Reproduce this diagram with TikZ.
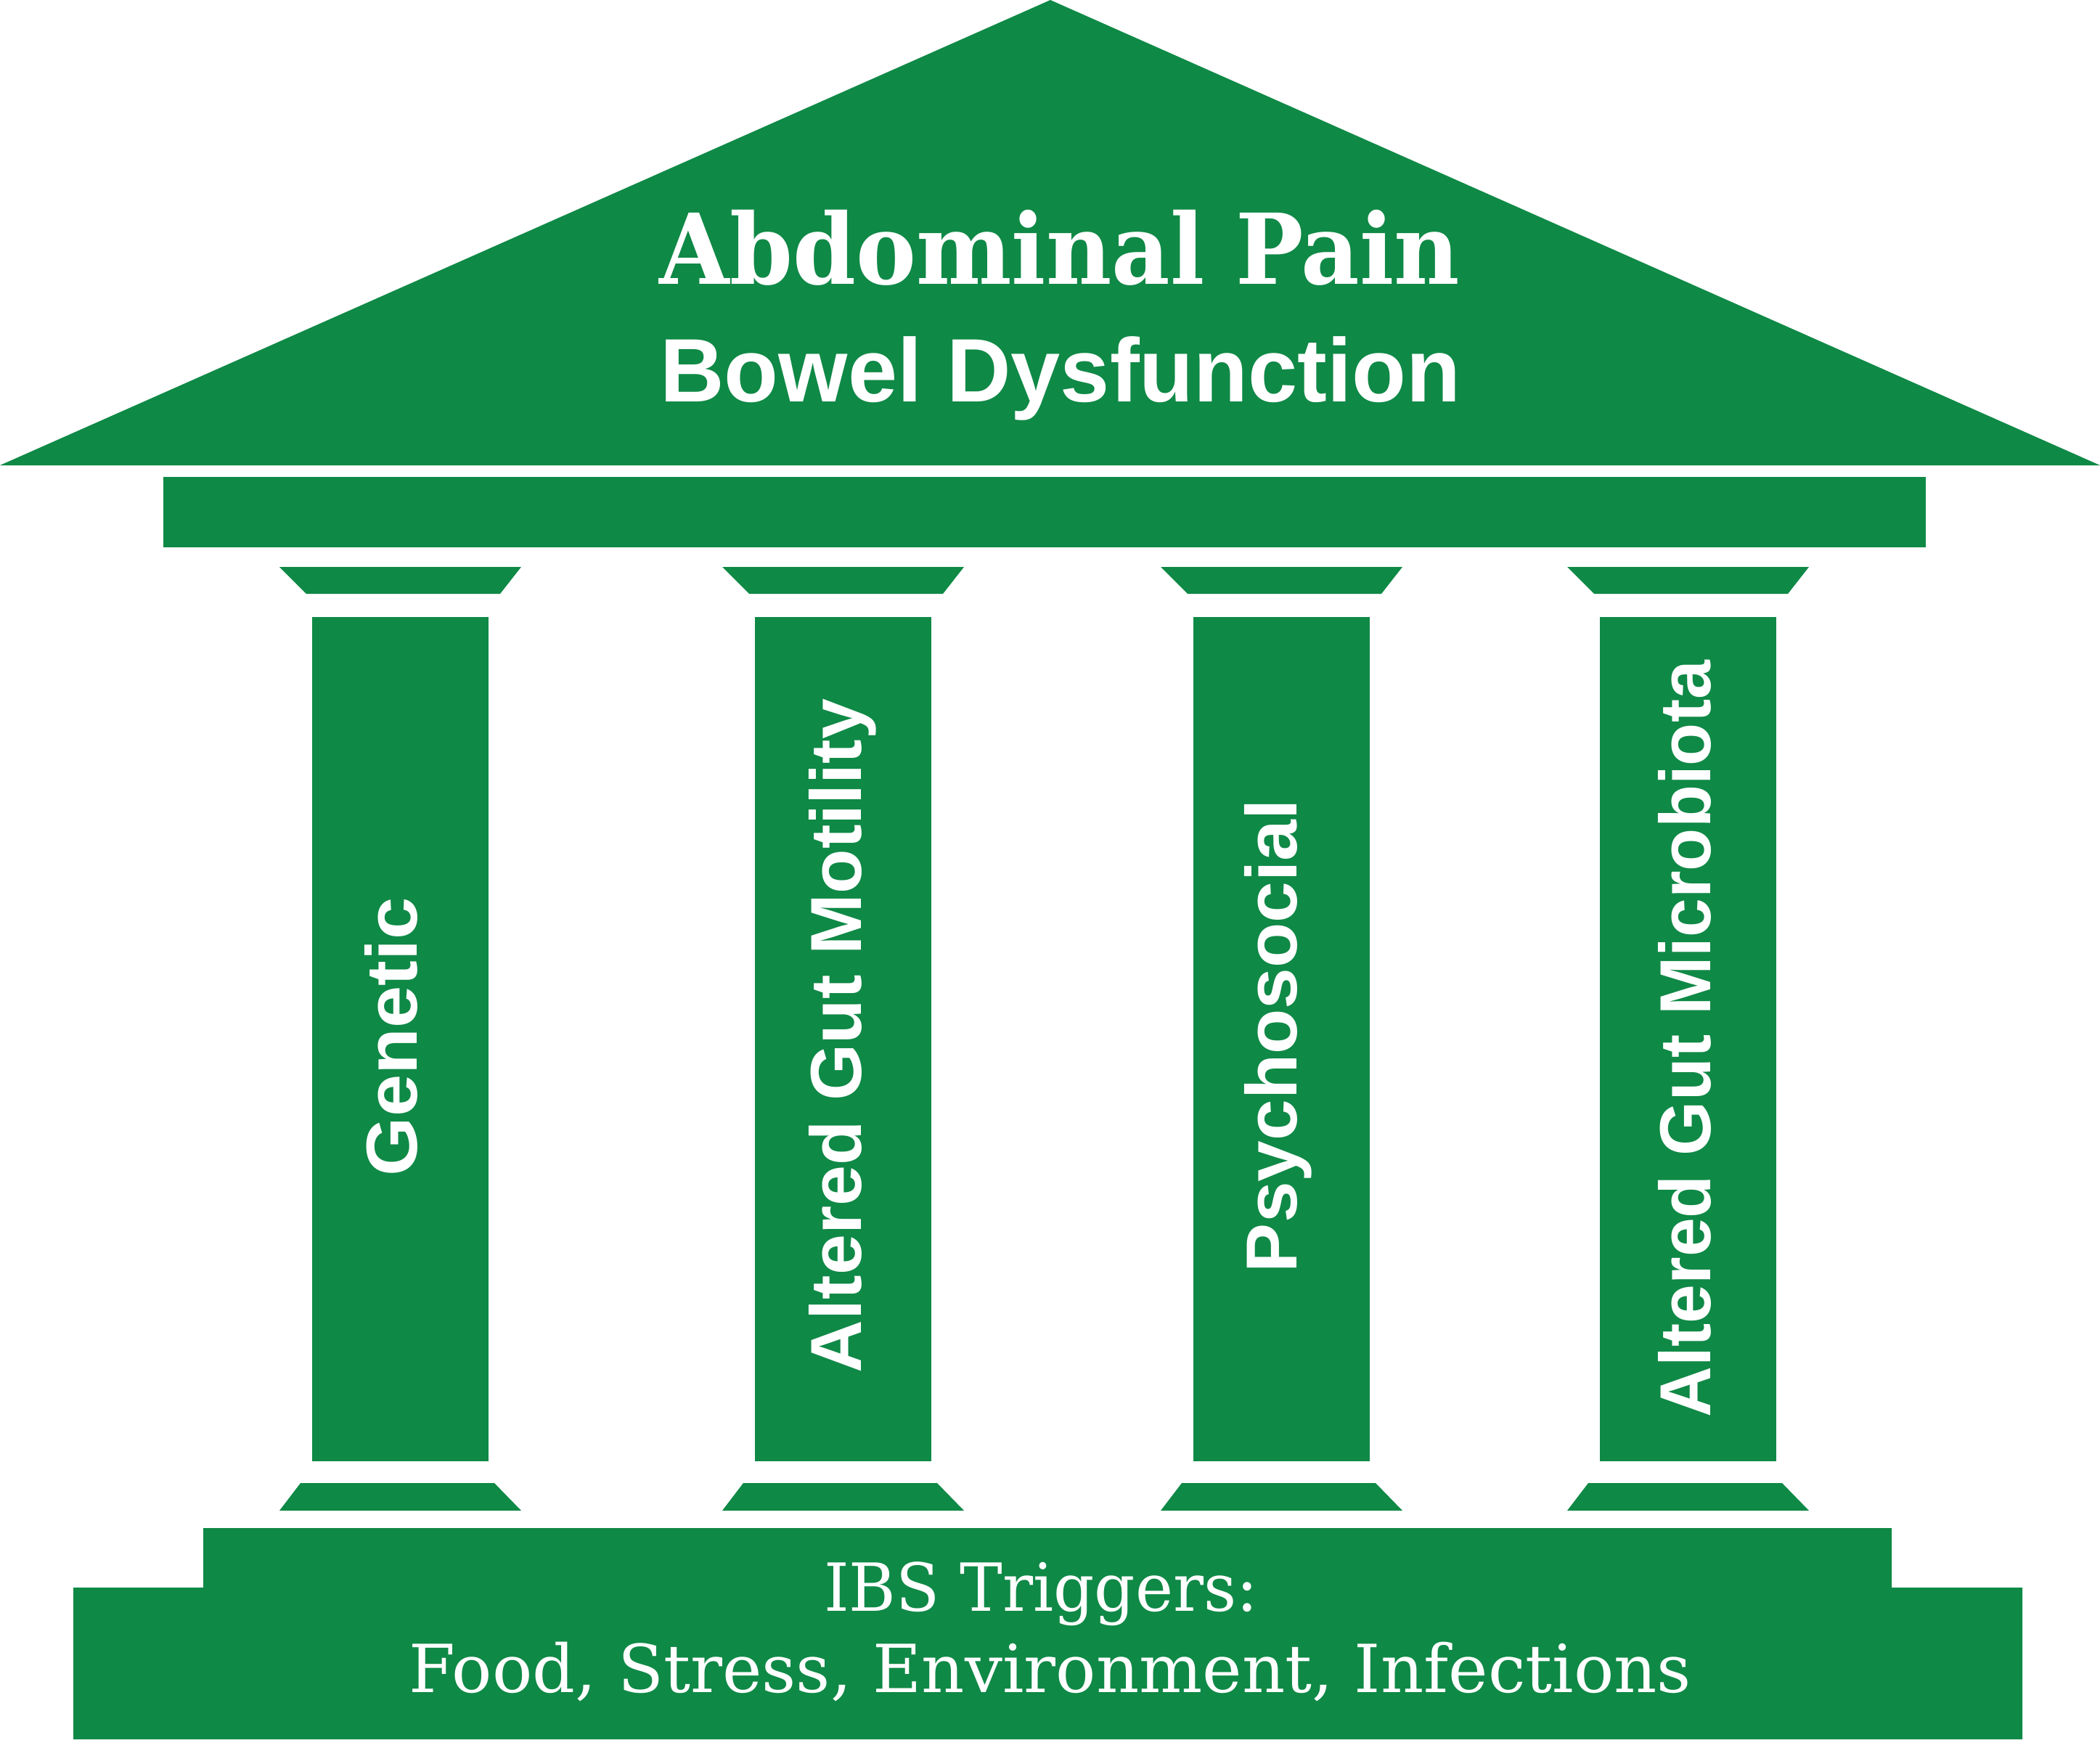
\documentclass[tikz,border=0pt]{standalone}
\usepackage{fontspec}
\usepackage{graphicx}
\setmainfont{Liberation Sans}
\newfontfamily\slabfont{DejaVu Serif}
\newfontfamily\sansfont{Liberation Sans}
\definecolor{ibsgreen}{RGB}{15,137,70}
\begin{document}
\begin{tikzpicture}[
  part/.style={fill=ibsgreen, draw=none},
  txt/.style={text=white, inner sep=0pt, anchor=base},
  ptxt/.style={text=white, inner sep=0pt, anchor=base, rotate=90}
]
\useasboundingbox (0,0) rectangle (28.93,-23.96);
% roof
\fill[part] (0,-6.41) -- (14.47,0) -- (28.93,-6.41) -- cycle;
% entablature
\fill[part] (2.25,-6.57) rectangle (26.53,-7.54);
% pillars
\foreach \c in {5.515,11.615,17.655,23.255}{
  \fill[part] (\c-1.665,-7.81) -- (\c+1.665,-7.81) -- (\c+1.375,-8.18) -- (\c-1.295,-8.18) -- cycle;
  \fill[part] (\c-1.215,-8.50) rectangle (\c+1.215,-20.13);
  \fill[part] (\c-1.375,-20.43) -- (\c+1.295,-20.43) -- (\c+1.665,-20.81) -- (\c-1.665,-20.81) -- cycle;
}
% steps
\fill[part] (2.80,-21.05) -- (26.06,-21.05) -- (26.06,-21.87) -- (27.86,-21.87) -- (27.86,-23.96) -- (1.01,-23.96) -- (1.01,-21.87) -- (2.80,-21.87) -- cycle;
% roof text
\node[txt] (pain) at (14.60,-3.91) {\resizebox{11.02cm}{\height}{\slabfont\bfseries\fontsize{38.3}{40}\selectfont Abdominal Pain}};
\node[txt] (bowel) at (14.61,-5.53) {\resizebox{11.03cm}{\height}{\sansfont\bfseries\fontsize{35.3}{38}\selectfont Bowel Dysfunction}};
% pillar text
\node[ptxt] (genetic) at (5.74,-14.28) {\resizebox{3.84cm}{\height}{\sansfont\bfseries\fontsize{28.3}{30}\selectfont Genetic}};
\node[ptxt] (motility) at (11.86,-14.27) {\resizebox{9.28cm}{\height}{\sansfont\bfseries\fontsize{28.3}{30}\selectfont Altered Gut Motility}};
\node[ptxt] (psycho) at (17.86,-14.27) {\resizebox{6.52cm}{\height}{\sansfont\bfseries\fontsize{28.3}{30}\selectfont Psychosocial}};
\node[ptxt] (microbiota) at (23.56,-14.31) {\resizebox{10.42cm}{\height}{\sansfont\bfseries\fontsize{28.3}{30}\selectfont Altered Gut Microbiota}};
% base text
\node[txt] (ibs) at (14.34,-22.19) {\resizebox{5.98cm}{\height}{\slabfont\fontsize{26}{28}\selectfont IBS Triggers:}};
\node[txt] (triggers) at (14.47,-23.31) {\resizebox{17.66cm}{\height}{\slabfont\fontsize{26}{28}\selectfont Food, Stress, Environment, Infections}};
\end{tikzpicture}
\end{document}
